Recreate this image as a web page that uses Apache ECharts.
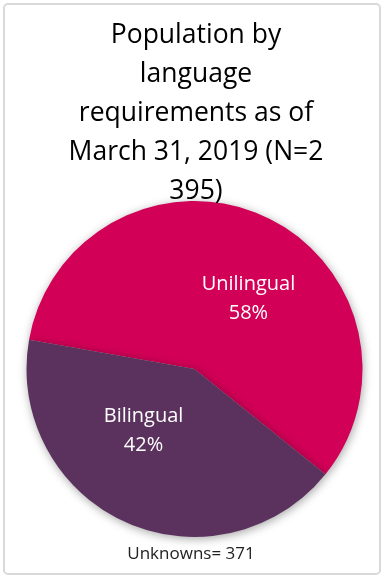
<!DOCTYPE html>
<html>
<head>
<meta charset="utf-8">
<script src="https://cdn.jsdelivr.net/npm/echarts@6/dist/echarts.min.js"></script>
<style>html,body{margin:0;padding:0;background:#fff}#c{width:386px;height:580px}</style>
</head>
<body>
<div id="c"></div>
<script>
var titleLines = ['Population by', 'language', 'requirements as of', 'March 31, 2019 (N=2', '395)'];
var categories = ['Unilingual', 'Bilingual'];
var values = [58, 42];
var colors = ['#D20057', '#5B325D'];
var footer = 'Unknowns= 371';
var labelOffsets = [[18, 9], [-15, -17]];

var font = '"Open Sans", "Noto Sans", sans-serif';
var chart = echarts.init(document.getElementById('c'), null, {renderer: 'canvas'});
chart.setOption({
  animation: false,
  title: {
    text: titleLines.join('\n'),
    left: 191, top: 11, textAlign: 'center',
    textStyle: {fontFamily: font, fontSize: 26.5, fontWeight: 'normal', color: '#000', lineHeight: 39}
  },
  graphic: [
    {type: 'rect', shape: {x: 4, y: 4, width: 376, height: 570, r: 4}, style: {fill: 'none', stroke: '#D9D9D9', lineWidth: 2}, z: -1},
    {type: 'text', x: 191, y: 554, style: {text: footer, font: '17px ' + font, fill: '#222', align: 'center', verticalAlign: 'middle'}}
  ],
  series: [{
    type: 'pie',
    center: [194.5, 369],
    radius: 168,
    startAngle: 170,
    clockwise: true,
    silent: true,
    itemStyle: {shadowBlur: 10, shadowColor: 'rgba(0,0,0,0.35)', shadowOffsetX: 1, shadowOffsetY: 2},
    label: {
      show: true, position: 'inner', color: '#fff', fontFamily: font, fontSize: 20, lineHeight: 29,
      formatter: function (p) { return p.name + '\n' + p.value + '%'; }
    },
    labelLine: {show: false},
    data: categories.map(function (n, i) {
      return {name: n, value: values[i], itemStyle: {color: colors[i]}, label: {offset: labelOffsets[i]}};
    })
  }]
});
</script>
</body>
</html>
